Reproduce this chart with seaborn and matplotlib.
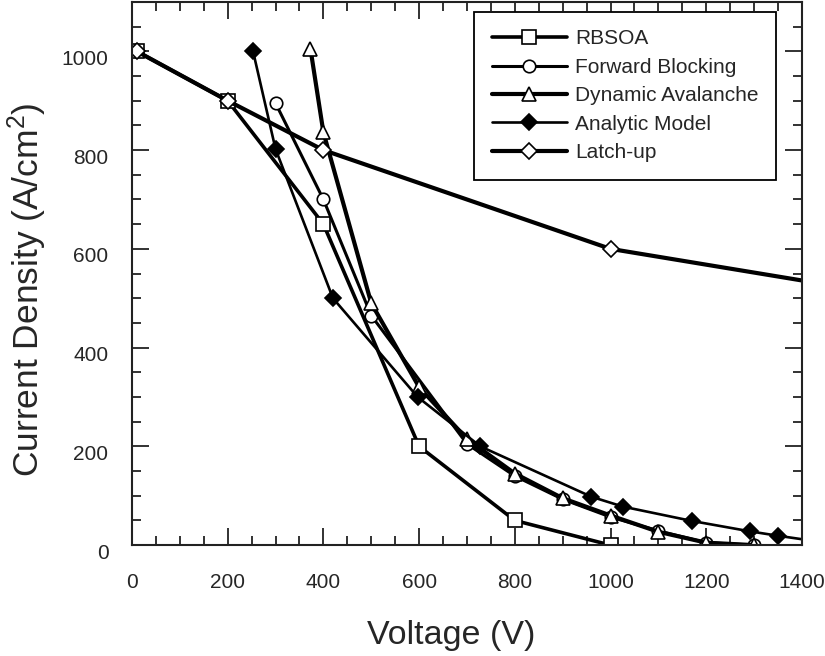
import matplotlib
matplotlib.use("Agg")
import matplotlib.pyplot as plt
import matplotlib.transforms as mtransforms
from matplotlib.ticker import MultipleLocator
import seaborn as sns
import pandas as pd

# ---- data ----
rbsoa_v = [10, 200, 400, 600, 800, 1000]
rbsoa_j = [1000, 900, 650, 200, 50, 0]

fwd_v = [300, 400, 500, 700, 800, 900, 1000, 1100, 1200, 1300]
fwd_j = [895, 700, 465, 205, 140, 93, 57, 29, 5, 0]

dyn_v = [373, 400, 500, 600, 700, 800, 900, 1000, 1100, 1200, 1300]
dyn_j = [1005, 836, 490, 320, 215, 145, 95, 60, 27, 5, 0]

ana_v = [253, 300, 420, 597, 728, 960, 1026, 1170, 1291, 1350, 1450]
ana_j = [1000, 802, 500, 300, 200, 98, 78, 49, 28, 19, 5]

latch_v = [10, 200, 400, 1000, 1500]
latch_j = [1000, 900, 800, 600, 520]

labels = ["RBSOA", "Forward Blocking", "Dynamic Avalanche", "Analytic Model", "Latch-up"]

sns.set_style("ticks")
plt.rcParams["font.family"] = ["Liberation Sans", "DejaVu Sans"]
plt.rcParams["mathtext.fontset"] = "custom"
plt.rcParams["mathtext.rm"] = "Liberation Sans"
plt.rcParams["mathtext.it"] = "Liberation Sans"

fig = plt.figure(figsize=(8.25, 6.56), dpi=100)
ax = fig.add_axes([0.16, 0.169, 0.812, 0.828])

series = [
    (rbsoa_v, rbsoa_j, "s", "white", 2.6, 10),
    (fwd_v, fwd_j, "o", "white", 2.2, 9),
    (dyn_v, dyn_j, "^", "white", 3.0, 10),
    (ana_v, ana_j, "D", "black", 1.9, 8),
    (latch_v, latch_j, "D", "white", 3.0, 8),
]

for (v, j, m, fc, lw, ms), lab in zip(series, labels):
    df = pd.DataFrame({"V": v, "J": j})
    sns.lineplot(data=df, x="V", y="J", ax=ax, color="black", linewidth=lw,
                 marker=m, markersize=ms, markerfacecolor=fc,
                 markeredgecolor="black", markeredgewidth=1.2,
                 estimator=None, sort=False, label=lab, clip_on=True)

ax.set_xlim(0, 1400)
ax.set_ylim(0, 1100)
ax.xaxis.set_major_locator(MultipleLocator(200))
ax.xaxis.set_minor_locator(MultipleLocator(50))
ax.yaxis.set_major_locator(MultipleLocator(200))
ax.yaxis.set_minor_locator(MultipleLocator(50))
ax.set_yticks([0, 200, 400, 600, 800, 1000])

for s in ax.spines.values():
    s.set_visible(True)
    s.set_linewidth(1.5)
    s.set_color("#222222")

ax.tick_params(which="both", direction="in", top=True, right=True,
               color="#222222", width=1.3)
ax.tick_params(which="major", length=12, labelsize=15)
ax.tick_params(which="minor", length=6.5)
ax.tick_params(axis="x", which="major", pad=20)
ax.tick_params(axis="y", which="major", pad=17)

ax.set_xlabel("Voltage (V)", fontsize=24.5, labelpad=20)
ax.xaxis.label.set_x(0.476)
ax.set_ylabel("Current Density (A/cm$^2$)", fontsize=25.5, labelpad=9)
ax.yaxis.label.set_y(0.47)

leg = ax.legend(loc="upper right", bbox_to_anchor=(0.962, 0.982), fontsize=15,
                frameon=True, fancybox=False, edgecolor="black",
                handlelength=3.6, labelspacing=0.45, borderpad=0.85,
                handletextpad=0.4, borderaxespad=0)
leg.get_frame().set_linewidth(1.3)
leg.get_frame().set_facecolor("white")
leg.get_frame().set_alpha(1)

off = mtransforms.ScaledTranslation(0, -6 / 100, fig.dpi_scale_trans)
for lbl in ax.get_yticklabels():
    lbl.set_transform(lbl.get_transform() + off)

fig.savefig("out.png", dpi=100)
